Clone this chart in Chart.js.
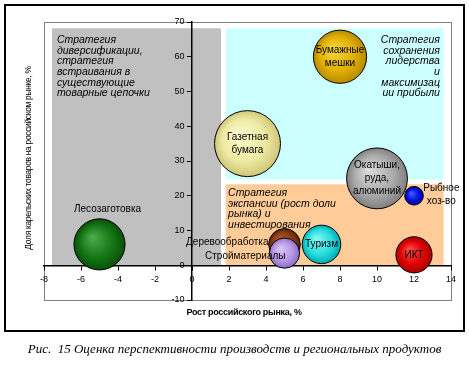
<!DOCTYPE html>
<html>
<head>
<meta charset="utf-8">
<script src="https://cdn.jsdelivr.net/npm/chart.js@4.4.0/dist/chart.umd.min.js"></script>
<style>
  body { margin: 0; background: #fff; }
  #wrap { position: relative; width: 469px; height: 374px; }
  #frame { position: absolute; left: 4px; top: 4px; width: 457px; height: 324px; border: 2px solid #000; }
  #grafik { position: absolute; left: 0; top: 0; }
  #podpis { position: absolute; left: 0; top: 341px; width: 469px; text-align: center;
    font: italic 13px "Liberation Serif", "Times New Roman", serif; color: #000; white-space: nowrap; }
</style>
</head>
<body>
<div id="wrap">
  <div id="frame"></div>
  <canvas id="grafik" width="469" height="374"></canvas>
  <div id="podpis">Рис.&nbsp; 15 Оценка перспективности производств и региональных продуктов</div>
</div>
<script>
// данные пузырьков
const nazvaniya = [['Лесозаготовка'], ['Газетная', 'бумага'], ['Бумажные', 'мешки'], ['Окатыши,', 'руда,', 'алюминий'],
  ['Рыбное', 'хоз-во'], ['Деревообработка'], ['Стройматериалы'], ['Туризм'], ['ИКТ']]
const rostRynka = [-5, 3, 8, 10, 12, 5, 5, 7, 12]
const dolyaRynka = [6, 35, 60, 25, 20, 6, 3.5, 6, 3]
const razmer = [60, 100, 65, 85, 8, 23, 21, 34, 30]
const mestoPodpisi = ['top', 'center', 'center', 'center', 'right', 'left', 'left', 'center', 'center']

// цвета шаров: светлый, основной, тёмный
const cveta = [
  ['#4fae4f', '#137513', '#0a4f0a'],
  ['#fbfad0', '#eeeaa2', '#cfc678'],
  ['#f6d840', '#e0b000', '#b88a00'],
  ['#dedede', '#aaaaaa', '#808080'],
  ['#4a5cff', '#0010e0', '#0000a0'],
  ['#b86438', '#8c3a12', '#5e2208'],
  ['#dcc8f8', '#b496e4', '#8c6cc4'],
  ['#90f8f8', '#26dede', '#00aab4'],
  ['#ff5050', '#e00000', '#a80000']
]

const osX = [-8, 14, 2]
const osY = [-10, 70, 10]

// зоны стратегий: [x1, x2, y1, y2]
const zony = [
  [-7.57, 1.57, 0, 68.2, '#c0c0c0'],
  [1.84, 13.6, 24.7, 68.2, '#ccffff'],
  [1.82, 13.6, 0, 23.3, '#ffcc99']
]
const tekstyZon = [
  [['Стратегия', 'диверсификации,', 'стратегия', 'встраивания в', 'существующие', 'товарные цепочки'], -7.3, 64.8, 'left'],
  [['Стратегия', 'сохранения', 'лидерства', 'и', 'максимизац', 'ии прибыли'], 13.4, 64.8, 'right'],
  [['Стратегия', 'экспансии (рост доли', 'рынка) и', 'инвестирования'], 1.95, 20.8, 'left']
]

const maxR = 33
const tochki = rostRynka.map((x, i) => ({ x: x, y: dolyaRynka[i], r: maxR * Math.sqrt(razmer[i] / 100) }))

function gradient(ctx) {
  const chart = ctx.chart
  const c = cveta[ctx.dataIndex]
  if (!chart.chartArea || !ctx.raw) return c[1]
  const px = chart.scales.x.getPixelForValue(ctx.raw.x)
  const py = chart.scales.y.getPixelForValue(ctx.raw.y)
  const r = ctx.raw.r
  const g = chart.ctx.createRadialGradient(px - r * 0.3, py - r * 0.3, 0, px, py, r)
  g.addColorStop(0, c[0])
  g.addColorStop(0.65, c[1])
  g.addColorStop(1, c[2])
  return g
}

const fonPlugin = {
  id: 'fon',
  beforeDraw(chart) {
    const ctx = chart.ctx
    const a = chart.chartArea
    const sx = chart.scales.x, sy = chart.scales.y
    ctx.save()
    zony.forEach(z => {
      const x1 = sx.getPixelForValue(z[0]), x2 = sx.getPixelForValue(z[1])
      const y1 = sy.getPixelForValue(z[3]), y2 = sy.getPixelForValue(z[2])
      ctx.fillStyle = z[4]
      ctx.fillRect(x1, y1, x2 - x1, y2 - y1)
    })
    ctx.strokeStyle = '#808080'
    ctx.lineWidth = 1
    ctx.strokeRect(a.left + 0.5, a.top + 0.5, a.right - a.left, a.bottom - a.top)
    // тексты зон
    ctx.fillStyle = '#000'
    ctx.font = 'italic 10.5px "Liberation Sans", Arial, sans-serif'
    ctx.textBaseline = 'middle'
    tekstyZon.forEach(t => {
      ctx.textAlign = t[3]
      const x = sx.getPixelForValue(t[1])
      const y = sy.getPixelForValue(t[2])
      t[0].forEach((s, k) => ctx.fillText(s, x, y + k * 10.7))
    })
    ctx.restore()
  },
  afterDraw(chart) {
    const ctx = chart.ctx
    const sx = chart.scales.x, sy = chart.scales.y
    ctx.save()
    ctx.fillStyle = '#000'
    ctx.textBaseline = 'middle'
    ctx.font = '10px "Liberation Sans", Arial, sans-serif'
    tochki.forEach((p, i) => {
      const cx = sx.getPixelForValue(p.x), cy = sy.getPixelForValue(p.y)
      const lines = nazvaniya[i]
      const m = mestoPodpisi[i]
      if (m == 'center') {
        ctx.textAlign = 'center'
        const h = 13.3
        lines.forEach((s, k) => ctx.fillText(s, cx, cy + (k - (lines.length - 1) / 2) * h))
      } else if (m == 'top') {
        ctx.textAlign = 'center'
        ctx.fillText(lines[0], cx + 8, cy - p.r - 10)
      } else if (m == 'right') {
        ctx.textAlign = 'center'
        lines.forEach((s, k) => ctx.fillText(s, cx + p.r + 18, cy - 8 + k * 13.5))
      } else {
        ctx.textAlign = 'right'
        if (i == 5) ctx.fillText(lines[0], cx - 16, cy - 2)
        else ctx.fillText(lines[0], cx + 1, cy + 3)
      }
    })
    // подписи осей
    ctx.textAlign = 'center'
    ctx.font = 'bold 9px "Liberation Sans", Arial, sans-serif'
    ctx.letterSpacing = '-0.3px'
    ctx.fillText('Рост российского рынка, %', 244, 313)
    ctx.translate(29, 158)
    ctx.rotate(-Math.PI / 2)
    ctx.font = '8.5px "Liberation Sans", Arial, sans-serif'
    ctx.letterSpacing = '-0.35px'
    ctx.fillText('Доля карельских товаров на российском рынке, %', 0, 0)
    ctx.restore()
  }
}

const config = {
  type: 'bubble',
  data: {
    datasets: [{
      data: tochki,
      backgroundColor: gradient,
      borderColor: '#000',
      borderWidth: 1,
      hoverBorderWidth: 1
    }]
  },
  options: {
    responsive: false,
    animation: false,
    events: [],
    layout: { autoPadding: false, padding: { left: 44, right: 18, top: 22, bottom: 74 } },
    plugins: { legend: { display: false }, tooltip: { enabled: false } },
    scales: {
      x: {
        type: 'linear', min: osX[0], max: osX[1],
        position: { y: 0 },
        ticks: { stepSize: osX[2], autoSkip: false, color: '#000', padding: 5,
          font: { size: 9, family: '"Liberation Sans", Arial, sans-serif' } },
        grid: { drawOnChartArea: false, drawTicks: true, tickLength: 4, color: '#000' },
        border: { color: '#000', width: 1.5 }
      },
      y: {
        type: 'linear', min: osY[0], max: osY[1],
        position: { x: 0 },
        ticks: { stepSize: osY[2], autoSkip: false, color: '#000',
          callback: v => v + '   ',
          font: { size: 9, family: '"Liberation Sans", Arial, sans-serif' } },
        grid: { drawOnChartArea: false, drawTicks: true, tickLength: 4, color: '#000' },
        border: { color: '#000', width: 1.5 }
      }
    }
  },
  plugins: [fonPlugin]
}

const myChart = new Chart(document.getElementById('grafik'), config)
</script>
</body>
</html>
